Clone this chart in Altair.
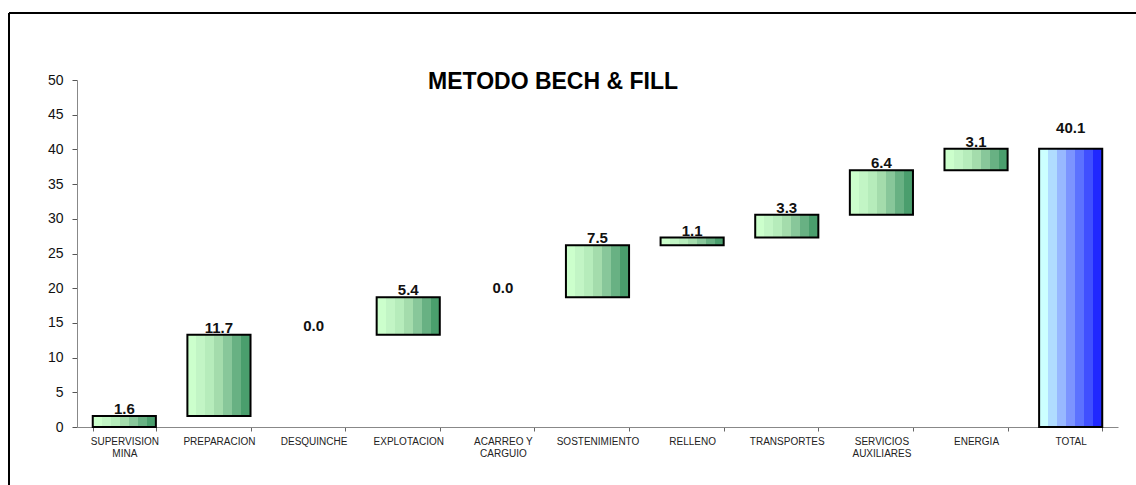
import altair as alt
import pandas as pd

categories = ["SUPERVISION\nMINA", "PREPARACION", "DESQUINCHE", "EXPLOTACION",
              "ACARREO Y\nCARGUIO", "SOSTENIMIENTO", "RELLENO", "TRANSPORTES",
              "SERVICIOS\nAUXILIARES", "ENERGIA", "TOTAL"]
values = [1.6, 11.7, 0.0, 5.4, 0.0, 7.5, 1.1, 3.3, 6.4, 3.1]
total = 40.1
title_text = "METODO BECH & FILL"
y_ticks = [0, 5, 10, 15, 20, 25, 30, 35, 40, 45, 50]

green_colors = ["#ccffcc", "#c2f5c5", "#b6ecbb", "#a4dcac", "#88c79a", "#68b183", "#4a9e6d"]
blue_colors = ["#ccffff", "#b0dcff", "#98b8ff", "#7c94ff", "#5c72ff", "#4050ff", "#2028ff"]

rows = []
acc = 0.0
for c, v in zip(categories[:-1], values):
    rows.append({"cat": c, "start": round(acc, 2), "end": round(acc + v, 2),
                 "value": v, "kind": "step", "label": f"{v:.1f}"})
    acc += v
rows.append({"cat": categories[-1], "start": 0.0, "end": total, "value": total,
             "kind": "total", "label": f"{total:.1f}"})
df = pd.DataFrame(rows)


def stepped(colors):
    n = len(colors)
    stops = []
    for i, col in enumerate(colors):
        stops.append(alt.GradientStop(offset=i / n, color=col))
        stops.append(alt.GradientStop(offset=(i + 1) / n, color=col))
    return alt.Gradient(gradient="linear", stops=stops, x1=0, x2=1, y1=0, y2=0)


FONT = "Liberation Sans"

x_enc = alt.X("cat:N", sort=categories, title=None,
              scale=alt.Scale(paddingInner=0.333, paddingOuter=0.1665),
              axis=alt.Axis(labelAngle=0, labelFontSize=10, labelFont=FONT,
                            labelColor="#222", labelPadding=5, tickBand="extent",
                            tickSize=4, tickColor="#666", domainColor="#888",
                            labelExpr="split(datum.label, '\\n')",
                            labelLineHeight=12, labelBaseline="top"))
y_scale = alt.Scale(domain=[0, 50], nice=False)
y_axis = alt.Axis(values=y_ticks, grid=False, labelFontSize=14,
                  labelFont=FONT, labelColor="#111", labelPadding=9,
                  tickSize=5, tickColor="#555", domainColor="#888")
y_start = alt.Y("start:Q", scale=y_scale, title=None, axis=y_axis)
y_end = alt.Y("end:Q", scale=y_scale, title=None, axis=y_axis)

base = alt.Chart(df)

bars_green = base.transform_filter("datum.kind == 'step' && datum.value > 0").mark_bar(
    fill=stepped(green_colors), stroke="black", strokeWidth=2
).encode(x=x_enc, y=y_start, y2="end:Q")

bars_total = base.transform_filter("datum.kind == 'total'").mark_bar(
    fill=stepped(blue_colors), stroke="black", strokeWidth=2
).encode(x=x_enc, y=y_start, y2="end:Q")

labels_step = base.transform_filter("datum.kind == 'step' && datum.value > 0").mark_text(
    font=FONT, fontSize=15, fontWeight="bold", baseline="alphabetic", dy=-2, color="#111"
).encode(x=x_enc, y=y_end, text="label:N")

labels_zero = base.transform_filter("datum.kind == 'step' && datum.value == 0").mark_text(
    font=FONT, fontSize=15, fontWeight="bold", baseline="alphabetic", dy=-4, color="#111"
).encode(x=x_enc, y=y_end, text="label:N")

labels_total = base.transform_filter("datum.kind == 'total'").mark_text(
    font=FONT, fontSize=15, fontWeight="bold", baseline="alphabetic", dy=-16, color="#111"
).encode(x=x_enc, y=y_end, text="label:N")

title_df = pd.DataFrame({"t": [title_text]})
title_layer = alt.Chart(title_df).mark_text(
    font=FONT, fontSize=23, fontWeight="bold", align="center", baseline="alphabetic",
    color="#000"
).encode(x=alt.value(476), y=alt.value(9), text="t:N")

frame_top = alt.Chart(title_df).mark_rule(color="black", strokeWidth=2).encode(
    x=alt.value(-68), x2=alt.value(1136 - 77 + 2), y=alt.value(-67))
frame_left = alt.Chart(title_df).mark_rule(color="black", strokeWidth=2).encode(
    x=alt.value(-68), y=alt.value(-67), y2=alt.value(485 - 80 + 5))

chart = alt.layer(
    labels_step, labels_zero, labels_total, bars_green, bars_total,
    title_layer, frame_top, frame_left
).properties(
    width=1041, height=347,
    autosize=alt.AutoSizeParams(type="none"),
    padding={"left": 77, "top": 80, "right": 18, "bottom": 58},
    background="white",
).configure_view(stroke=None)

chart.save("out.html", embed_options={"renderer": "svg", "actions": False})
